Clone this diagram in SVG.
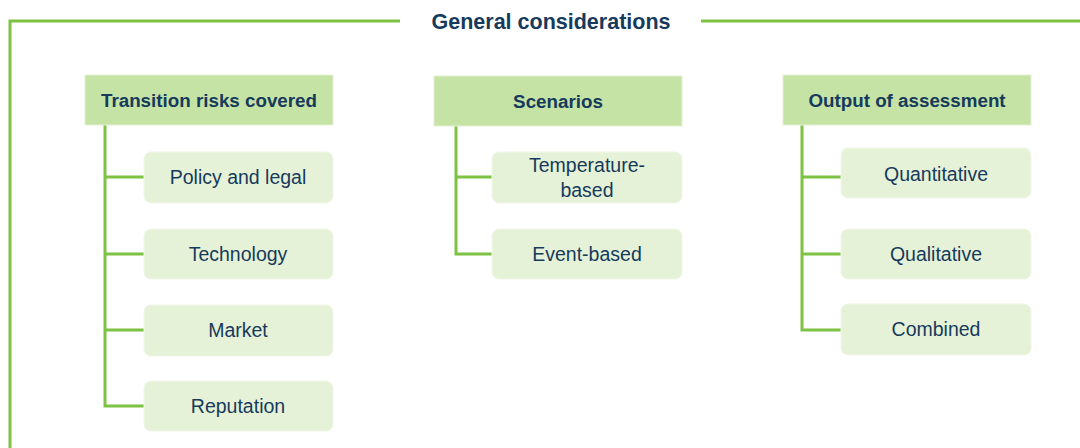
<svg xmlns="http://www.w3.org/2000/svg" width="1080" height="448" viewBox="0 0 1080 448">
<style>
.hdr{fill:#c5e3a5;stroke:#e3f1d3;stroke-width:1}
.item{fill:#e6f2d8;stroke:#f0f7e8;stroke-width:1}
.ln{stroke:#7dc242;stroke-width:3;fill:none}
text{font-family:"Liberation Sans",Arial,sans-serif;fill:#163a5c;text-anchor:middle}
.ht{font-weight:bold;font-size:18.8px}
.it{font-size:19.5px}
.tt{font-weight:bold;font-size:21.5px}
</style>
<rect width="1080" height="448" fill="#ffffff"/>
<g id="connectors">
<polyline class="ln" points="10,448 10,21 400,21"/>
<line class="ln" x1="701" y1="21" x2="1080" y2="21"/>
<polyline class="ln" points="105,125 105,406 144,406"/>
<line class="ln" x1="105" y1="177" x2="144" y2="177"/>
<line class="ln" x1="105" y1="254" x2="144" y2="254"/>
<line class="ln" x1="105" y1="330" x2="144" y2="330"/>
<polyline class="ln" points="456,126 456,254 492,254"/>
<line class="ln" x1="456" y1="177" x2="492" y2="177"/>
<polyline class="ln" points="802,125 802,330 841,330"/>
<line class="ln" x1="802" y1="177" x2="841" y2="177"/>
<line class="ln" x1="802" y1="254" x2="841" y2="254"/>
</g>
<g id="title"><text class="tt" x="551" y="29">General considerations</text></g>
<g id="transition"><rect class="hdr" x="85" y="75" width="248" height="50"/><text class="ht" x="209" y="107">Transition risks covered</text></g>
<g id="policy"><rect class="item" x="144" y="152" width="189" height="51" rx="7"/><text class="it" x="238" y="184">Policy and legal</text></g>
<g id="technology"><rect class="item" x="144" y="229" width="189" height="50" rx="7"/><text class="it" x="238" y="261">Technology</text></g>
<g id="market"><rect class="item" x="144" y="305" width="189" height="51" rx="7"/><text class="it" x="238" y="337">Market</text></g>
<g id="reputation"><rect class="item" x="144" y="381" width="189" height="50" rx="7"/><text class="it" x="238" y="413">Reputation</text></g>
<g id="scenarios"><rect class="hdr" x="434" y="76" width="248" height="50"/><text class="ht" x="558" y="108">Scenarios</text></g>
<g id="temperature"><rect class="item" x="492" y="152" width="190" height="51" rx="7"/><text class="it" x="587" y="172">Temperature-</text><text class="it" x="587" y="197">based</text></g>
<g id="event"><rect class="item" x="492" y="229" width="190" height="50" rx="7"/><text class="it" x="587" y="261">Event-based</text></g>
<g id="output"><rect class="hdr" x="783" y="75" width="248" height="50"/><text class="ht" x="907" y="107">Output of assessment</text></g>
<g id="quantitative"><rect class="item" x="841" y="148" width="190" height="50" rx="7"/><text class="it" x="936" y="181">Quantitative</text></g>
<g id="qualitative"><rect class="item" x="841" y="229" width="190" height="50" rx="7"/><text class="it" x="936" y="261">Qualitative</text></g>
<g id="combined"><rect class="item" x="841" y="304" width="190" height="51" rx="7"/><text class="it" x="936" y="336">Combined</text></g>
</svg>
